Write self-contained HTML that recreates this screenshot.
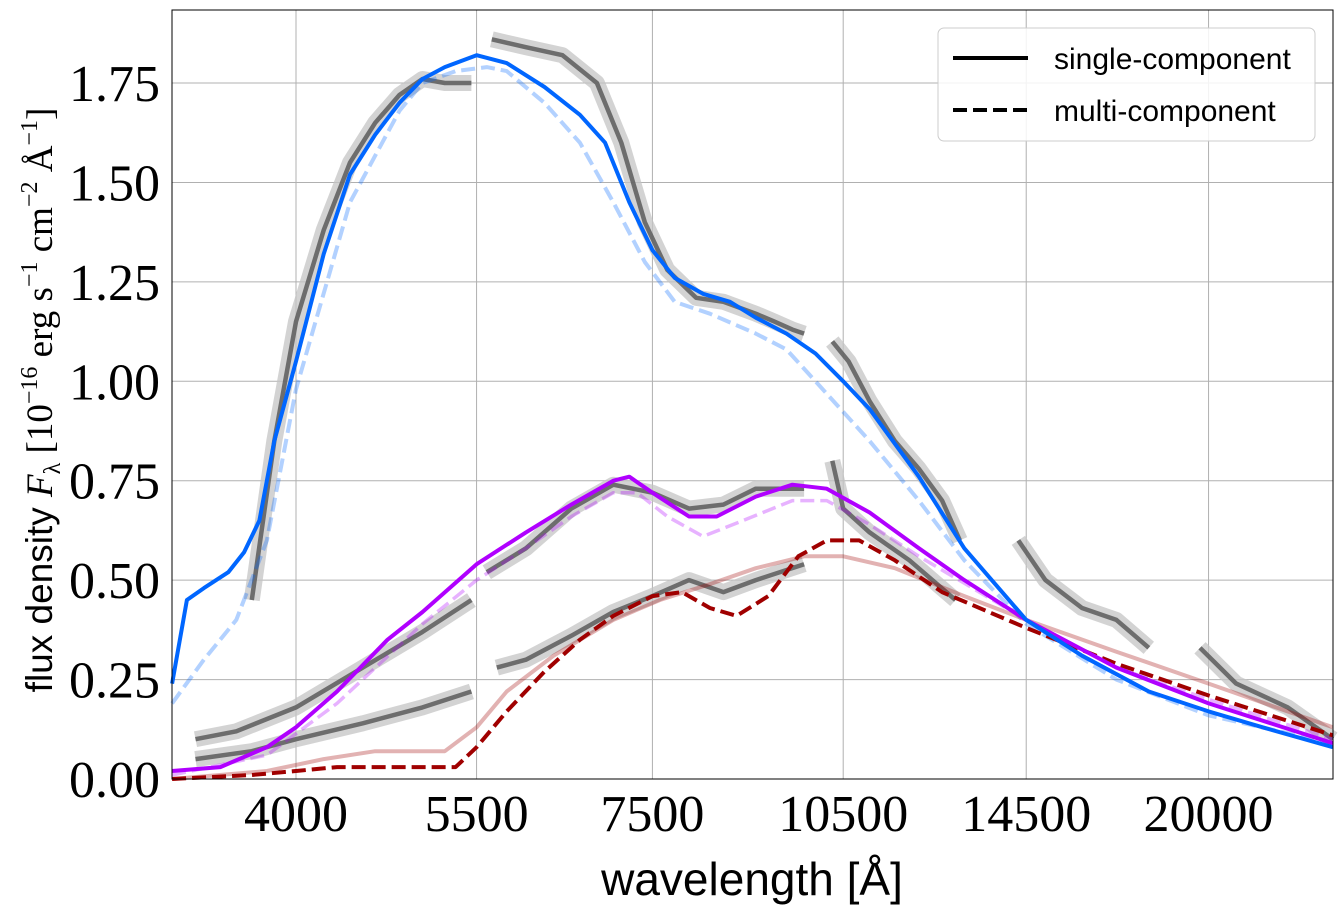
<!DOCTYPE html>
<html><head><meta charset="utf-8"><style>
html,body{margin:0;padding:0;background:#fff;width:1343px;height:918px;overflow:hidden}
svg{display:block}
.tick{font-family:"Liberation Serif",serif;font-size:52px;fill:#000}
</style></head><body>
<svg id="chart" width="1343" height="918" xmlns="http://www.w3.org/2000/svg">
<g id="grid"></g>
<g id="series"></g>
<rect x="172" y="10" width="1161" height="769" fill="none" stroke="#000" stroke-width="1"/>
<g id="ticks"></g>
<text x="752" y="895" text-anchor="middle" font-family="Liberation Sans, sans-serif" font-size="46">wavelength [Å]</text>
<text transform="translate(52,400) rotate(-90)" text-anchor="middle" font-size="37"><tspan font-family="Liberation Sans, sans-serif">flux density </tspan><tspan font-family="Liberation Serif, serif" font-style="italic">F</tspan><tspan font-family="Liberation Serif, serif" font-size="24" dy="8">λ</tspan><tspan font-family="Liberation Serif, serif" dy="-8"> [10</tspan><tspan font-family="Liberation Serif, serif" font-size="24" dy="-15">−16</tspan><tspan font-family="Liberation Serif, serif" dy="15"> erg s</tspan><tspan font-family="Liberation Serif, serif" font-size="24" dy="-15">−1</tspan><tspan font-family="Liberation Serif, serif" dy="15"> cm</tspan><tspan font-family="Liberation Serif, serif" font-size="24" dy="-15">−2</tspan><tspan font-family="Liberation Serif, serif" dy="15"> Å</tspan><tspan font-family="Liberation Serif, serif" font-size="24" dy="-15">−1</tspan><tspan font-family="Liberation Serif, serif" dy="15">]</tspan></text>
<g>
<rect x="938" y="28" width="377" height="113" rx="6" fill="#fff" fill-opacity="0.85" stroke="#ccc"/>
<line x1="953" y1="58" x2="1028" y2="58" stroke="#000" stroke-width="4"/>
<text x="1054" y="69" font-family="Liberation Sans, sans-serif" font-size="30">single-component</text>
<line x1="953" y1="110" x2="1028" y2="110" stroke="#000" stroke-width="4" stroke-dasharray="14,6"/>
<text x="1054" y="121" font-family="Liberation Sans, sans-serif" font-size="30">multi-component</text>
</g>
</svg>
<script>
const xTicks=[4000,5500,7500,10500,14500,20000];
const yTicks=[0,0.25,0.5,0.75,1.0,1.25,1.5,1.75];
const blueSolid=[[3215,0.24],[3300,0.45],[3400,0.48],[3550,0.52],[3650,0.57],[3750,0.65],[3850,0.85],[4000,1.05],[4200,1.32],[4400,1.52],[4600,1.62],[4800,1.70],[5000,1.76],[5200,1.79],[5500,1.82],[5800,1.80],[6200,1.74],[6600,1.67],[6900,1.60],[7200,1.45],[7500,1.33],[7800,1.26],[8200,1.22],[8600,1.20],[9000,1.16],[9500,1.12],[10000,1.07],[10500,1.00],[11000,0.93],[12000,0.76],[13000,0.58],[14500,0.40],[16000,0.31],[18000,0.22],[20000,0.17],[22000,0.13],[24900,0.08]];
const blueDashed=[[3215,0.19],[3400,0.30],[3600,0.40],[3800,0.60],[4000,0.98],[4400,1.45],[4800,1.68],[5000,1.75],[5300,1.78],[5600,1.79],[5800,1.78],[6200,1.70],[6600,1.60],[7000,1.45],[7400,1.30],[7800,1.20],[8300,1.17],[9000,1.12],[9500,1.08],[10000,1.00],[11000,0.85],[12000,0.70],[13000,0.55],[14500,0.39],[17000,0.25],[20000,0.16],[24900,0.09]];
const purpleSolid=[[3215,0.02],[3500,0.03],[3800,0.08],[4000,0.13],[4300,0.22],[4700,0.35],[5000,0.42],[5500,0.54],[6000,0.62],[6500,0.69],[7000,0.75],[7200,0.76],[7500,0.72],[8000,0.66],[8400,0.66],[9000,0.71],[9600,0.74],[10200,0.73],[11000,0.67],[12000,0.58],[13000,0.50],[14500,0.40],[17000,0.28],[20000,0.19],[24900,0.09]];
const purpleDashed=[[3215,0.01],[3800,0.06],[4300,0.19],[5000,0.39],[5500,0.50],[6000,0.58],[6500,0.66],[7000,0.72],[7300,0.72],[7700,0.66],[8200,0.61],[8800,0.65],[9600,0.70],[10200,0.70],[11000,0.64],[12000,0.56],[14500,0.40],[17000,0.28],[20000,0.20],[24900,0.10]];
const redDashed=[[3215,0],[3700,0.01],[4000,0.02],[4300,0.03],[5000,0.03],[5300,0.03],[5500,0.08],[5800,0.17],[6200,0.27],[6600,0.35],[7000,0.41],[7500,0.46],[7900,0.47],[8300,0.43],[8700,0.41],[9200,0.46],[9700,0.56],[10200,0.60],[10800,0.60],[11500,0.55],[12500,0.47],[14500,0.38],[17000,0.29],[20000,0.21],[24900,0.11]];
const redSolid=[[3215,0],[3800,0.02],[4200,0.05],[4600,0.07],[5200,0.07],[5500,0.13],[5800,0.22],[6300,0.31],[7000,0.40],[7600,0.45],[8300,0.49],[9000,0.53],[9800,0.56],[10500,0.56],[11500,0.53],[13000,0.46],[14500,0.40],[17000,0.32],[20000,0.24],[24900,0.13]];
const obsTop=[
 [[3700,0.45],[3850,0.85],[4000,1.15],[4200,1.38],[4400,1.55],[4600,1.65],[4800,1.72],[5000,1.76],[5200,1.75],[5450,1.75]],
 [[5650,1.86],[6000,1.84],[6400,1.82],[6800,1.75],[7100,1.60],[7400,1.40],[7700,1.28],[8100,1.21],[8500,1.20],[9000,1.17],[9300,1.15],[9600,1.13],[9800,1.12]],
 [[10300,1.10],[10600,1.05],[11000,0.95],[11500,0.85],[12000,0.78],[12500,0.70],[12900,0.60]],
 [[14300,0.60],[15000,0.50],[16000,0.43],[17000,0.40],[18000,0.33]],
 [[19700,0.33],[21000,0.24],[23000,0.18],[24900,0.10]]];
const obsMid=[
 [[3350,0.10],[3600,0.12],[4000,0.18],[4500,0.28],[5000,0.37],[5450,0.45]],
 [[5600,0.52],[6000,0.58],[6500,0.68],[7000,0.74],[7500,0.72],[8000,0.68],[8500,0.69],[9000,0.73],[9800,0.73]],
 [[10300,0.80],[10500,0.68],[11000,0.62],[11800,0.55],[12800,0.45]]];
const obsLow=[
 [[3350,0.05],[3700,0.07],[4000,0.10],[4500,0.14],[5000,0.18],[5450,0.22]],
 [[5700,0.28],[6000,0.30],[6500,0.36],[7000,0.42],[7500,0.46],[8000,0.50],[8500,0.47],[9000,0.50],[9800,0.54]]];

const L=172,R=1333,T=10,B=779;
const xs=w=>296+567*Math.log(w/4000);
const ys=v=>B-v*397.7;
const NS="http://www.w3.org/2000/svg";
const grid=document.getElementById('grid'),ticks=document.getElementById('ticks'),ser=document.getElementById('series');
function mk(tag,attrs,parent){const e=document.createElementNS(NS,tag);for(const k in attrs)e.setAttribute(k,attrs[k]);parent.appendChild(e);return e;}
xTicks.forEach(t=>{const x=xs(t);
 const g=mk('line',{x1:x,x2:x,y1:T,y2:B,stroke:'#b0b0b0','stroke-width':1},grid);
 
 
 const tl=mk('text',{x:x,y:B+52,'text-anchor':'middle',class:'tick'},ticks);tl.textContent=t;
 
 
});
yTicks.forEach(t=>{const y=ys(t);
 const g=mk('line',{x1:L,x2:R,y1:y,y2:y,stroke:'#b0b0b0','stroke-width':1},grid);
 
 
 const tl=mk('text',{x:L-12,y:y+18,'text-anchor':'end',class:'tick'},ticks);tl.textContent=t.toFixed(2);
 
 
});
const pts=a=>a.map(p=>xs(p[0]).toFixed(1)+','+ys(p[1]).toFixed(1)).join(' ');
function line(data,name,attrs){const e=mk('polyline',Object.assign({points:pts(data),fill:'none','stroke-linejoin':'round'},attrs),ser);
 
 }
[obsTop,obsMid,obsLow].forEach(sp=>sp.forEach(seg=>line(seg,'observed-error-band',{stroke:'#c4c4c4','stroke-opacity':0.75,'stroke-width':16})));
[obsTop,obsMid,obsLow].forEach(sp=>sp.forEach(seg=>line(seg,'observed-spectrum',{stroke:'#5a5a5a','stroke-opacity':0.85,'stroke-width':4.5})));
line(blueDashed,'blue-multi-component',{stroke:'#0066ff','stroke-opacity':0.3,'stroke-width':4,'stroke-dasharray':'14,6'});
line(purpleDashed,'purple-multi-component',{stroke:'#b000ff','stroke-opacity':0.3,'stroke-width':3.5,'stroke-dasharray':'14,6'});
line(redSolid,'red-single-component',{stroke:'#a00000','stroke-opacity':0.3,'stroke-width':4});
line(redDashed,'red-multi-component',{stroke:'#a00000','stroke-width':4,'stroke-dasharray':'14,6'});
line(purpleSolid,'purple-single-component',{stroke:'#b000ff','stroke-width':4});
line(blueSolid,'blue-single-component',{stroke:'#0066ff','stroke-width':4});
</script>
</body></html>
